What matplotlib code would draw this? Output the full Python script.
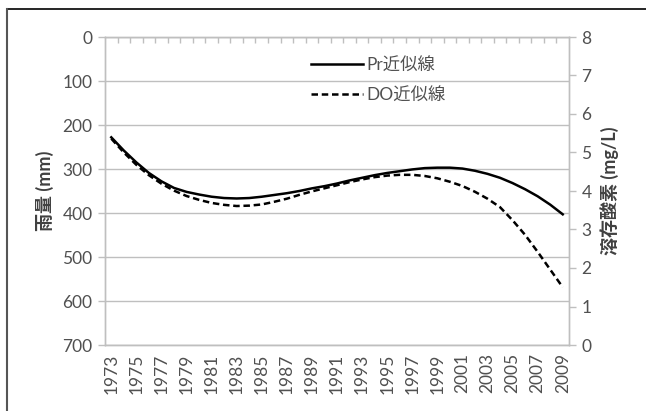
import matplotlib
matplotlib.use("Agg")
import matplotlib.pyplot as plt
from matplotlib.lines import Line2D

plt.rcParams["font.family"] = ["Lato", "Noto Sans CJK JP", "DejaVu Sans"]

# data
years = list(range(1973, 2010))
pr_fit = [228, 258, 285, 309, 328, 343, 352, 358, 363, 366,
          367, 366, 363, 359, 355, 350, 344, 339, 333, 326,
          320, 314, 309, 305, 301, 298, 297, 297, 299, 304,
          311, 320, 332, 346, 362, 381, 403]
do_fit = [5.36, 5.00, 4.68, 4.41, 4.19, 4.01, 3.87, 3.77, 3.69, 3.64,
          3.61, 3.62, 3.65, 3.72, 3.80, 3.90, 3.99, 4.07, 4.15, 4.23,
          4.30, 4.36, 4.40, 4.42, 4.42, 4.39, 4.33, 4.24, 4.13, 3.98,
          3.80, 3.58, 3.24, 2.86, 2.42, 1.96, 1.50]
pr_ticks = [0, 100, 200, 300, 400, 500, 600, 700]
do_ticks = [0, 1, 2, 3, 4, 5, 6, 7, 8]

tick_col = "#505050"
grid_col = "#bfbfbf"
fs = 12.5

fig = plt.figure(figsize=(6.46, 4.11), dpi=100)
ax = fig.add_axes([105 / 646, 1 - 345 / 411, 464 / 646, 308 / 411])
ax2 = ax.twinx()

x = list(range(len(years)))
h1, = ax.plot(x, pr_fit, color="black", lw=1.8, label="Pr近似線")
h2, = ax2.plot(x, do_fit, color="black", lw=1.8, ls=(0, (2.6, 1.5)), label="DO近似線")

ax.set_xlim(-0.5, len(years) - 0.5)
ax.set_ylim(700, 0)
ax.set_yticks(pr_ticks)
ax2.set_ylim(0, 8)
ax2.set_yticks(do_ticks)

ax.set_xticks(x[::2])
ax.set_xticklabels([str(y) for y in years[::2]], rotation=90)
ax.set_xticks([i + 0.5 for i in x[:-1]], minor=True)
ax.tick_params(axis="x", which="major", length=0, pad=6, labelsize=fs, colors=tick_col)
ax.tick_params(axis="x", which="minor", top=True, bottom=False, direction="in",
               length=4, width=1, color=grid_col)
ax.tick_params(axis="y", length=5, width=1, color=grid_col, labelsize=fs,
               labelcolor=tick_col, pad=4)
ax2.tick_params(axis="y", length=5, width=1, color=grid_col, labelsize=fs,
                labelcolor=tick_col, pad=4)

ax.grid(axis="y", color=grid_col, lw=1)
ax.set_axisbelow(True)
for a in (ax, ax2):
    for s in a.spines.values():
        s.set_color(grid_col)
        s.set_linewidth(1)

ax.set_ylabel("雨量 (mm)", fontsize=13, fontweight="bold", color="#404040", labelpad=6)
ax2.set_ylabel("溶存酸素 (mg/L)", fontsize=13, fontweight="bold", color="#404040", labelpad=6)

leg = ax2.legend([h1, h2], ["Pr近似線", "DO近似線"], loc="upper left",
                 bbox_to_anchor=(0.41, 0.985), frameon=False, fontsize=fs,
                 handlelength=3.0, handletextpad=0.2, labelspacing=0.8)
for t in leg.get_texts():
    t.set_color(tick_col)

# outer frame of the pasted chart (only top and left edges visible)
fig.add_artist(Line2D([7 / 646, 1], [1 - 9 / 411, 1 - 9 / 411], color="black", lw=1.2,
                      transform=fig.transFigure))
fig.add_artist(Line2D([7 / 646, 7 / 646], [0, 1 - 9 / 411], color="#555555", lw=1.5,
                      transform=fig.transFigure))

fig.savefig("out.png", dpi=100)
